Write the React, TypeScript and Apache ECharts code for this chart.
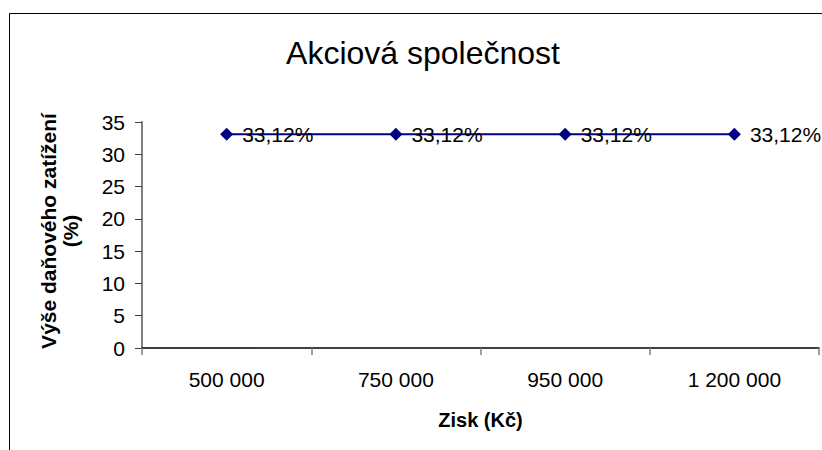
import React, { useEffect, useRef } from "react";
import * as echarts from "echarts";

const categories = ["500 000", "750 000", "950 000", "1 200 000"];
const taxBurden = [33.12, 33.12, 33.12, 33.12];
const yTicks = { min: 0, max: 35, interval: 5 };
const titleText = "Akciová společnost";
const yName = "Výše daňového zatížení\n(%)";
const xName = "Zisk (Kč)";

const FONT = "'Liberation Sans', Arial, sans-serif";

export default function App() {
  const ref = useRef<HTMLDivElement>(null);
  useEffect(() => {
    if (!ref.current) return;
    const chart = echarts.init(ref.current, null, { renderer: "svg" });
    chart.setOption({
      animation: false,
      backgroundColor: "#ffffff",
      textStyle: { fontFamily: FONT },
      graphic: [
        {
          type: "rect",
          shape: { x: 9.5, y: 13.5, width: 900, height: 900 },
          style: { fill: "none", stroke: "#000000", lineWidth: 1 },
          silent: true,
        },
        {
          type: "text",
          x: 423,
          y: 53,
          style: {
            text: titleText,
            fontFamily: FONT,
            fontSize: 32,
            fill: "#000000",
            align: "center",
            verticalAlign: "middle",
          },
        },
        {
          type: "text",
          x: 59,
          y: 231,
          rotation: Math.PI / 2,
          style: {
            text: yName,
            fontFamily: FONT,
            fontSize: 21,
            fontWeight: "bold",
            lineHeight: 22,
            fill: "#000000",
            align: "center",
            verticalAlign: "middle",
          },
        },
      ],
      grid: { left: 142, top: 122, right: 3, bottom: 102, containLabel: false },
      xAxis: {
        type: "category",
        data: categories,
        boundaryGap: true,
        name: xName,
        nameLocation: "middle",
        nameGap: 62,
        nameTextStyle: { fontFamily: FONT, fontSize: 20, fontWeight: "bold", color: "#000" },
        axisLine: { lineStyle: { color: "#000000", width: 1.5 } },
        axisTick: { show: true, length: 7, lineStyle: { color: "#808080", width: 1.5 } },
        axisLabel: { fontFamily: FONT, fontSize: 21, color: "#000000", margin: 21 },
        splitLine: { show: false },
      },
      yAxis: {
        type: "value",
        min: yTicks.min,
        max: yTicks.max,
        interval: yTicks.interval,
        axisLine: { show: true, lineStyle: { color: "#808080", width: 2 } },
        axisTick: { show: true, length: 7, lineStyle: { color: "#404040", width: 1 } },
        axisLabel: { fontFamily: FONT, fontSize: 21, color: "#000000", margin: 17 },
        splitLine: { show: false },
      },
      series: [
        {
          type: "line",
          data: taxBurden,
          symbol: "diamond",
          symbolSize: 13,
          itemStyle: { color: "#000080" },
          lineStyle: { color: "#000080", width: 2 },
          label: {
            show: true,
            position: "right",
            distance: 9,
            fontFamily: FONT,
            fontSize: 21,
            color: "#000000",
            formatter: (p: any) => Number(p.value).toFixed(2).replace(".", ",") + "%",
          },
        },
      ],
    });
    return () => chart.dispose();
  }, []);
  return (
    <div
      ref={ref}
      style={{ position: "fixed", left: 0, top: 0, width: 822, height: 450, background: "#fff" }}
    />
  );
}
